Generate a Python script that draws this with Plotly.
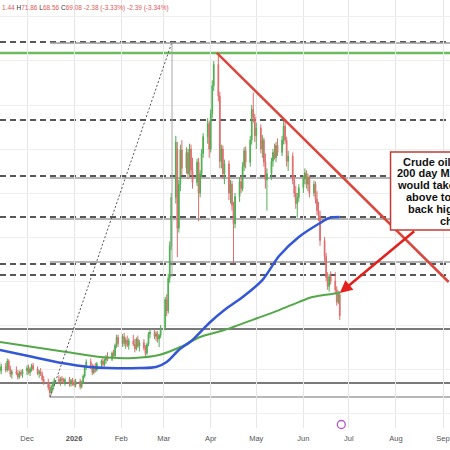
import pandas as pd
import plotly.graph_objects as go

# ---------------- data ----------------
dates = pd.bdate_range("2025-11-13", "2026-06-25")

opens = [
    # Nov
    63.2, 62.8, 63.3, 62.9, 63.9, 63.0, 62.4, 62.7, 62.5, 62.1, 62.6, 62.4,
    # Dec
    62.8, 63.1, 62.6, 63.0, 63.4, 63.0, 62.5, 62.7, 62.4, 61.8, 61.5, 60.9, 60.3, 61.0, 61.4,
    61.8, 61.6, 61.9, 61.7, 61.5, 61.8, 61.3, 61.7,
    # Jan
    61.4, 61.2, 61.6, 61.0, 61.5, 62.2, 63.2, 63.8, 63.3, 62.6, 63.3, 62.9, 63.6, 63.9, 63.5,
    64.0, 64.3, 64.1, 64.8, 64.5, 65.7, 66.6,
    # Feb
    65.9, 66.7, 65.9, 66.3, 65.7, 66.2, 65.8, 65.3, 66.4, 65.6, 66.0, 65.4, 64.8, 65.8, 67.0,
    67.2, 66.7, 67.0, 66.4, 66.8,
    # Mar
    67.7, 70.9, 69.6, 73.3, 77.0, 82.5, 88.0, 79.0, 84.0, 87.9, 85.8, 87.6, 85.2, 88.0, 85.6,
    84.2, 86.5, 83.0, 85.2, 87.5, 89.4, 90.9,
    # Apr
    88.0, 92.0, 95.2, 97.6, 94.0, 86.6, 88.0, 85.2, 86.3, 83.0, 84.0, 81.6, 79.5, 82.6, 84.3,
    83.5, 86.0, 87.8, 86.5, 89.0, 92.5, 91.6,
    # May
    89.5, 90.4, 88.0, 89.0, 86.5, 84.5, 85.2, 86.6, 87.6, 87.0, 88.4, 87.6, 89.0, 90.6, 89.0,
    86.6, 87.2, 84.5, 83.0, 81.8, 82.5,
    # Jun
    83.6, 84.6, 85.3, 84.0, 84.8, 83.0, 84.0, 82.3, 81.0, 80.4, 77.6, 75.8, 73.4, 72.4, 73.5,
    73.0, 72.0, 70.6, 71.44,
]
highs = [
    63.8, 63.6, 63.7, 64.2, 64.1, 63.4, 62.9, 63.3, 62.9, 62.8, 62.9, 63.0,
    63.4, 63.5, 63.2, 63.6, 63.7, 63.3, 62.9, 63.1, 62.7, 62.2, 61.9, 61.3, 61.2, 61.6, 62.0,
    62.3, 62.1, 62.2, 62.0, 62.0, 62.1, 61.9, 62.0,
    61.8, 61.9, 61.9, 61.7, 62.4, 63.4, 64.1, 64.2, 63.6, 63.5, 63.7, 63.8, 64.1, 64.3, 64.2,
    64.6, 64.9, 65.0, 65.2, 65.9, 66.9, 66.9,
    67.0, 67.1, 66.6, 66.8, 66.5, 66.9, 66.4, 66.6, 66.8, 66.3, 66.4, 65.7, 66.0, 67.2, 67.5,
    67.5, 67.3, 67.3, 67.0, 68.0,
    71.2, 71.5, 73.8, 77.5, 83.0, 89.5, 88.8, 84.5, 88.5, 89.0, 88.2, 88.0, 88.6, 88.5, 87.0,
    86.9, 87.0, 85.6, 88.0, 89.8, 91.5, 91.2,
    92.5, 95.8, 98.0, 98.9, 94.5, 88.5, 88.4, 86.8, 86.7, 84.5, 84.4, 82.0, 83.0, 84.8, 85.0,
    86.5, 88.2, 88.3, 89.5, 93.0, 94.4, 92.0,
    91.0, 90.8, 89.6, 89.3, 87.5, 85.8, 87.0, 88.0, 88.6, 88.8, 89.2, 89.5, 91.2, 91.3, 89.4,
    87.8, 87.6, 85.0, 83.8, 83.0, 84.0,
    85.0, 85.8, 85.6, 85.2, 85.0, 84.4, 84.3, 83.2, 82.0, 81.0, 78.0, 76.2, 74.0, 73.8, 74.1,
    74.0, 72.4, 71.9, 71.86,
]
lows = [
    62.5, 62.4, 62.6, 62.7, 62.8, 62.1, 61.9, 62.3, 61.8, 61.9, 62.2, 62.0,
    62.3, 62.4, 62.2, 62.7, 62.8, 62.3, 62.0, 62.2, 61.6, 61.2, 60.6, 59.8, 60.1, 60.5, 61.0,
    61.3, 61.1, 61.4, 61.3, 61.1, 61.0, 61.0, 61.1,
    61.0, 60.9, 60.7, 60.8, 61.3, 62.0, 62.9, 63.0, 62.3, 62.4, 62.6, 62.7, 63.2, 63.3, 63.3,
    63.6, 63.9, 63.9, 64.2, 64.4, 65.4, 65.5,
    65.5, 65.6, 65.3, 65.5, 65.2, 65.6, 64.9, 65.1, 65.4, 65.0, 65.1, 64.4, 64.6, 65.6, 66.5,
    66.4, 66.2, 66.0, 65.5, 66.5,
    67.4, 69.0, 69.3, 72.8, 76.5, 81.8, 75.7, 78.5, 83.2, 85.0, 85.2, 84.6, 84.8, 85.0, 83.5,
    83.8, 79.8, 82.5, 84.8, 87.0, 88.6, 87.0,
    87.6, 91.5, 94.6, 93.4, 85.8, 85.8, 84.6, 84.0, 82.2, 81.8, 81.0, 75.0, 79.0, 82.0, 83.0,
    83.2, 85.5, 85.8, 86.0, 88.5, 91.0, 88.8,
    88.0, 87.5, 87.0, 86.0, 83.5, 81.0, 84.5, 86.0, 86.8, 86.5, 87.2, 87.2, 88.5, 88.6, 86.0,
    85.5, 84.0, 82.5, 81.2, 80.2, 82.0,
    83.0, 84.0, 83.5, 83.2, 82.5, 82.6, 81.8, 80.5, 79.8, 77.0, 75.2, 73.0, 72.0, 71.8, 72.6,
    71.6, 70.2, 70.4, 68.56,
]
closes = [
    62.8, 63.3, 62.9, 63.9, 63.0, 62.4, 62.7, 62.5, 62.1, 62.6, 62.4, 62.8,
    63.1, 62.6, 63.0, 63.4, 63.0, 62.5, 62.7, 62.4, 61.8, 61.5, 60.9, 60.3, 61.0, 61.4, 61.8,
    61.6, 61.9, 61.7, 61.5, 61.8, 61.3, 61.7, 61.4,
    61.2, 61.6, 61.0, 61.5, 62.2, 63.2, 63.8, 63.3, 62.6, 63.3, 62.9, 63.6, 63.9, 63.5, 64.0,
    64.3, 64.1, 64.8, 64.5, 65.7, 66.6, 65.9,
    66.7, 65.9, 66.3, 65.7, 66.2, 65.8, 65.3, 66.4, 65.6, 66.0, 65.4, 64.8, 65.8, 67.0, 67.2,
    66.7, 67.0, 66.4, 66.8, 67.7,
    70.9, 69.6, 73.3, 77.0, 82.5, 88.8, 79.0, 84.0, 87.9, 85.8, 87.6, 85.2, 88.0, 85.6, 84.2,
    86.5, 83.0, 85.2, 87.5, 89.4, 90.9, 88.0,
    92.0, 95.2, 97.6, 94.0, 86.6, 88.0, 85.2, 86.3, 83.0, 84.0, 81.6, 79.5, 82.6, 84.3, 83.5,
    86.0, 87.8, 86.5, 89.0, 92.5, 91.6, 89.5,
    90.4, 88.0, 89.0, 86.5, 84.5, 85.2, 86.6, 87.6, 87.0, 88.4, 87.6, 89.0, 90.6, 89.0, 86.6,
    87.2, 84.5, 83.0, 81.8, 82.5, 83.6,
    84.6, 85.3, 84.0, 84.8, 83.0, 84.0, 82.3, 81.0, 80.4, 77.6, 75.8, 73.4, 72.4, 73.5, 73.0,
    72.0, 70.6, 71.46, 69.08,
]

ma100_dates = ["2025-11-13", "2025-12-05", "2025-12-24", "2026-01-11", "2026-01-24", "2026-02-13",
               "2026-02-24", "2026-03-03", "2026-03-11", "2026-03-20", "2026-03-31", "2026-04-10",
               "2026-04-22", "2026-05-05", "2026-05-16", "2026-05-29", "2026-06-12", "2026-06-18",
               "2026-06-25"]
ma100_vals = [65.16, 64.36, 63.68, 63.23, 63.11, 63.11, 63.23, 63.80, 65.16, 66.30, 68.23, 69.70,
              71.18, 73.11, 75.84, 78.0, 79.59, 80.16, 80.27]

ma200_dates = ["2025-11-13", "2025-12-05", "2025-12-27", "2026-01-18", "2026-02-09", "2026-02-26",
               "2026-03-12", "2026-03-25", "2026-04-10", "2026-05-02", "2026-05-16", "2026-05-29",
               "2026-06-07", "2026-06-25"]
ma200_vals = [66.07, 65.5, 64.93, 64.36, 64.25, 64.59, 65.5, 66.64, 67.43, 68.80, 69.70, 70.61,
              71.18, 71.64]

tick_dates = ["2025-12-01", "2026-01-01", "2026-02-01", "2026-03-01", "2026-04-01", "2026-05-01",
              "2026-06-01", "2026-07-01", "2026-08-01", "2026-09-01"]
tick_labels = ["Dec", "<b>2026</b>", "Feb", "Mar", "Apr", "May", "Jun", "Jul", "Aug", "Sep"]

# drawn levels
dashed_levels = [100.16, 91.30, 84.93, 80.27, 74.93, 73.68]
gray_levels_from_low = [100.05, 84.70, 80.05, 75.16]
dark_levels = [67.55, 61.41]
low_level = 59.82
high_level = 98.91

box_lines = ["Crude oil is through", "200 day MA. A bounce", "would take the market",
             "above to target the", "back higher in the", "chart."]
box_line_y = [86.56, 85.24, 83.91, 82.55, 81.18, 79.85]

assert len(dates) == len(opens) == len(highs) == len(lows) == len(closes)

# ---------------- figure ----------------
fig = go.Figure()
fig.add_trace(go.Candlestick(
    x=dates, open=opens, high=highs, low=lows, close=closes,
    increasing=dict(line=dict(color="#4fae52", width=1), fillcolor="#5cb85c"),
    decreasing=dict(line=dict(color="#e06c6c", width=1), fillcolor="#e88080"),
    whiskerwidth=0, showlegend=False, hoverinfo="skip",
))
fig.add_trace(go.Scatter(x=ma200_dates, y=ma200_vals, mode="lines",
                         line=dict(color="#55a84a", width=2, shape="spline", smoothing=0.8),
                         showlegend=False, hoverinfo="skip"))
fig.add_trace(go.Scatter(x=ma100_dates, y=ma100_vals, mode="lines",
                         line=dict(color="#3457d5", width=2.5, shape="spline", smoothing=0.8),
                         showlegend=False, hoverinfo="skip"))
fig.add_trace(go.Scatter(x=["2026-06-26"], y=[56.7], mode="markers", cliponaxis=False,
                         marker=dict(symbol="circle-open", size=8, color="#b257c7",
                                     line=dict(width=1.3, color="#b257c7")),
                         showlegend=False, hoverinfo="skip"))

shapes = []
for lv in gray_levels_from_low:
    shapes.append(dict(type="line", xref="x", yref="y", x0="2025-12-16", x1="2026-09-30",
                       y0=lv, y1=lv, line=dict(color="#9a9a9a", width=1.5), layer="below"))
shapes.append(dict(type="line", xref="x", yref="y", x0="2025-12-16", x1="2026-09-30",
                   y0=low_level, y1=low_level, line=dict(color="#a0a0a0", width=1.3), layer="below"))
for lv in dark_levels:
    shapes.append(dict(type="line", xref="paper", yref="y", x0=0, x1=1, y0=lv, y1=lv,
                       line=dict(color="#7a7a7a", width=2), layer="below"))
for lv in dashed_levels:
    shapes.append(dict(type="line", xref="paper", yref="y", x0=0, x1=1, y0=lv, y1=lv,
                       line=dict(color="#222222", width=1.5, dash="6px,4px"), layer="below"))
shapes.append(dict(type="line", xref="paper", yref="y", x0=0, x1=1, y0=high_level, y1=high_level,
                   line=dict(color="#6dbb5f", width=2.5), layer="below"))
# measurement lines
shapes.append(dict(type="line", xref="x", yref="y", x0="2025-12-16 06:00", y0=low_level,
                   x1="2026-03-06 12:00", y1=100.16,
                   line=dict(color="#555555", width=1, dash="2px,2px")))
shapes.append(dict(type="line", xref="x", yref="y", x0="2026-03-06 12:00", y0=100.16,
                   x1="2026-03-06 12:00", y1=73.45, line=dict(color="#a8a8a8", width=1)))
# trend line
shapes.append(dict(type="line", xref="x", yref="y", x0="2026-04-05", y0=high_level,
                   x1="2026-09-04 17:00", y1=72.89, line=dict(color="#d9473d", width=2.5)))
# comment box
shapes.append(dict(type="rect", xref="x", yref="y", x0="2026-07-28 10:00", x1="2026-10-31",
                   y0=78.80, y1=87.66, line=dict(color="#c43a33", width=1.5),
                   fillcolor="white", layer="above"))

annotations = [
    dict(xref="x", yref="y", x="2026-06-25", y=71.64, ax="2026-08-14", ay=78.8,
         axref="x", ayref="y", text="", showarrow=True, arrowhead=2, arrowsize=1,
         arrowwidth=2.5, arrowcolor="#e3211c", standoff=0),
    dict(xref="paper", yref="paper", x=0.0, y=1.0 - 2 / 428, xanchor="left", yanchor="top",
         showarrow=False, align="left",
         font=dict(size=6.5, family="Liberation Sans, Arial", color="#e05a5a"),
         text=("1.44 <span style='color:#333'>H</span>71.86 <span style='color:#333'>L</span>68.56 "
               "<span style='color:#333'>C</span>69.08 -2.38 (-3.33%) -2.39 (-3.34%)")),
]
for txt, yy in zip(box_lines, box_line_y):
    annotations.append(dict(xref="paper", yref="y", x=455 / 450, y=yy, xanchor="center",
                            yanchor="middle", showarrow=False, text="<b>" + txt + "</b>",
                            font=dict(size=11, family="Liberation Sans, Arial", color="#111111")))

fig.update_layout(
    width=450, height=450,
    margin=dict(l=0, r=0, t=0, b=22),
    paper_bgcolor="white", plot_bgcolor="white",
    shapes=shapes, annotations=annotations,
    xaxis=dict(type="date", range=["2025-11-13 05:00", "2026-09-05 14:00"],
               rangeslider=dict(visible=False), tickvals=tick_dates, ticktext=tick_labels,
               showgrid=True, gridcolor="#e6e6e6", gridwidth=1, zeroline=False,
               showline=False, ticks="", ticklabelstandoff=4,
               tickfont=dict(size=7.5, color="#555555", family="Liberation Sans, Arial")),
    yaxis=dict(range=[56.30, 104.93], tick0=3, dtick=5, showticklabels=False,
               showgrid=True, gridcolor="#eeeeee", zeroline=False, showline=False, ticks=""),
)

fig.write_html("out.html")
